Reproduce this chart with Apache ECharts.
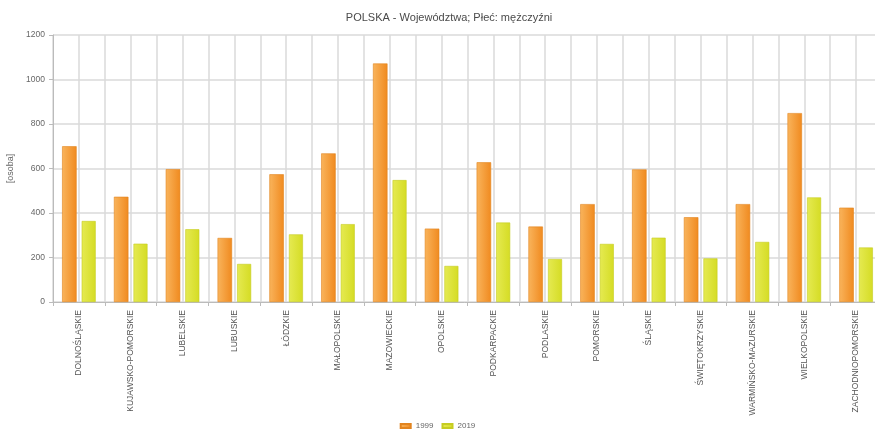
<!DOCTYPE html>
<html>
<head>
<meta charset="utf-8">
<script src="https://cdn.jsdelivr.net/npm/echarts@6/dist/echarts.min.js"></script>
<style>
html,body{margin:0;padding:0;background:#fff;}
#chart{width:875px;height:439px;}
</style>
</head>
<body>
<div id="chart"></div>
<script>
const categories = ["DOLNOŚLĄSKIE","KUJAWSKO-POMORSKIE","LUBELSKIE","LUBUSKIE","ŁÓDZKIE","MAŁOPOLSKIE","MAZOWIECKIE","OPOLSKIE","PODKARPACKIE","PODLASKIE","POMORSKIE","ŚLĄSKIE","ŚWIĘTOKRZYSKIE","WARMIŃSKO-MAZURSKIE","WIELKOPOLSKIE","ZACHODNIOPOMORSKIE"];
const values1999 = [700, 473, 597, 288, 574, 668, 1072, 330, 628, 339, 440, 596, 381, 440, 849, 424];
const values2019 = [364, 262, 327, 171, 304, 350, 548, 162, 357, 193, 261, 289, 196, 270, 470, 245];
const seriesNames = ["1999", "2019"];
const yTicks = {min: 0, max: 1200, interval: 200};

const chart = echarts.init(document.getElementById('chart'), null, {renderer: 'canvas'});
const font = 'Liberation Sans, Arial, sans-serif';
function grad(a, b) {
  return new echarts.graphic.LinearGradient(0, 0, 1, 0, [{offset: 0, color: a}, {offset: 1, color: b}]);
}
chart.setOption({
  animation: false,
  backgroundColor: '#fff',
  title: {
    text: 'POLSKA - Województwa; Płeć: mężczyźni',
    left: 444, top: 7, textAlign: 'center',
    textStyle: {fontFamily: font, fontSize: 11, fontWeight: 'normal', color: '#4a4a4a'}
  },
  legend: {
    data: seriesNames,
    left: 'center', bottom: 4,
    itemWidth: 10, itemHeight: 4, itemGap: 8,
    icon: 'rect',
    textStyle: {fontFamily: font, fontSize: 8, color: '#666'}
  },
  grid: {left: 53, right: -7, top: 35, bottom: 137, containLabel: false, outerBoundsMode: 'none'},
  xAxis: [{
    type: 'category',
    data: categories,
    boundaryGap: true,
    axisLine: {lineStyle: {color: '#bbb'}},
    axisTick: {show: true, length: 4, lineStyle: {color: '#bbb'}},
    splitLine: {show: false},
    axisLabel: {rotate: 90, interval: 0, fontFamily: font, fontSize: 8.5, color: '#555', margin: 8}
  }, {
    type: 'value', position: 'bottom',
    min: 0, max: 32, interval: 1,
    axisLine: {show: false}, axisTick: {show: false}, axisLabel: {show: false},
    splitLine: {show: true, lineStyle: {color: '#dadada', width: 1.5}}
  }],
  yAxis: {
    type: 'value',
    min: yTicks.min, max: yTicks.max, interval: yTicks.interval,
    name: '[osoba]', nameLocation: 'middle', nameGap: 33, nameRotate: 90,
    nameTextStyle: {fontFamily: font, fontSize: 9, color: '#666'},
    axisLine: {show: true, lineStyle: {color: '#bbb'}},
    axisTick: {show: true, length: 4, lineStyle: {color: '#bbb'}},
    axisLabel: {fontFamily: font, fontSize: 8.5, color: '#666', margin: 8, formatter: v => String(v)},
    splitLine: {show: true, lineStyle: {color: '#dadada', width: 1.5}}
  },
  series: [{
    name: seriesNames[0], type: 'bar', xAxisIndex: 0,
    data: values1999, barWidth: 14.5, barGap: '35%',
    itemStyle: {color: grad('#f9b45c', '#f08a1f'), borderColor: '#e2841f', borderWidth: 0.6}
  }, {
    name: seriesNames[1], type: 'bar', xAxisIndex: 0,
    data: values2019, barWidth: 14,
    itemStyle: {color: grad('#e5ea52', '#d5dc24'), borderColor: '#c6cc22', borderWidth: 0.6}
  }],
  color: ['#f5a040', '#dce236']
});
</script>
</body>
</html>
